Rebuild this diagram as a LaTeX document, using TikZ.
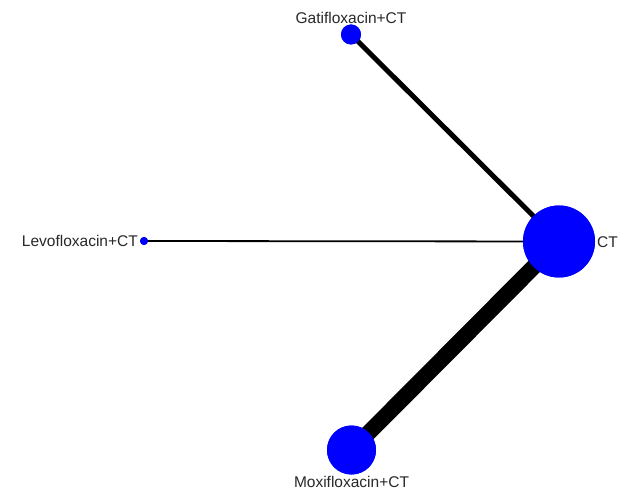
\documentclass[tikz,border=0pt]{standalone}
\usepackage{fontspec}
\setmainfont{Liberation Sans}
\begin{document}
\begin{tikzpicture}[x=1pt,y=1pt,
  trt/.style={circle,fill={rgb,255:red,0;green,0;blue,255},draw=none,inner sep=0pt},
  lbl/.style={font=\fontsize{15.5}{16}\selectfont,text={rgb,255:red,40;green,40;blue,40},inner sep=0pt},
  edge/.style={draw=black,line cap=butt}]
\useasboundingbox (0,0) rectangle (631,493);
\node[trt,minimum size=20] (gati) at (351,458.5) {};
\node[trt,minimum size=72] (ct) at (559,251.5) {};
\node[trt,minimum size=8] (levo) at (144,252) {};
\node[trt,minimum size=49] (moxi) at (351.5,43) {};
\node[lbl,anchor=south] (gatil) at (351,469) {Gatifloxacin+CT};
\node[lbl,anchor=east] (levol) at (138,252) {Levofloxacin+CT};
\node[lbl,anchor=west] (ctl) at (597,251) {CT};
\node[lbl,anchor=north] (moxil) at (351.5,17) {Moxifloxacin+CT};
\draw[edge,line width=5] (gati.center) -- (ct.center);
\draw[edge,line width=1.8] (levo.center) -- (ct.center);
\draw[edge,line width=16] (moxi.center) -- (ct.center);
\node[trt,minimum size=20] at (gati) {};
\node[trt,minimum size=72] at (ct) {};
\node[trt,minimum size=8] at (levo) {};
\node[trt,minimum size=49] at (moxi) {};
\end{tikzpicture}
\end{document}
